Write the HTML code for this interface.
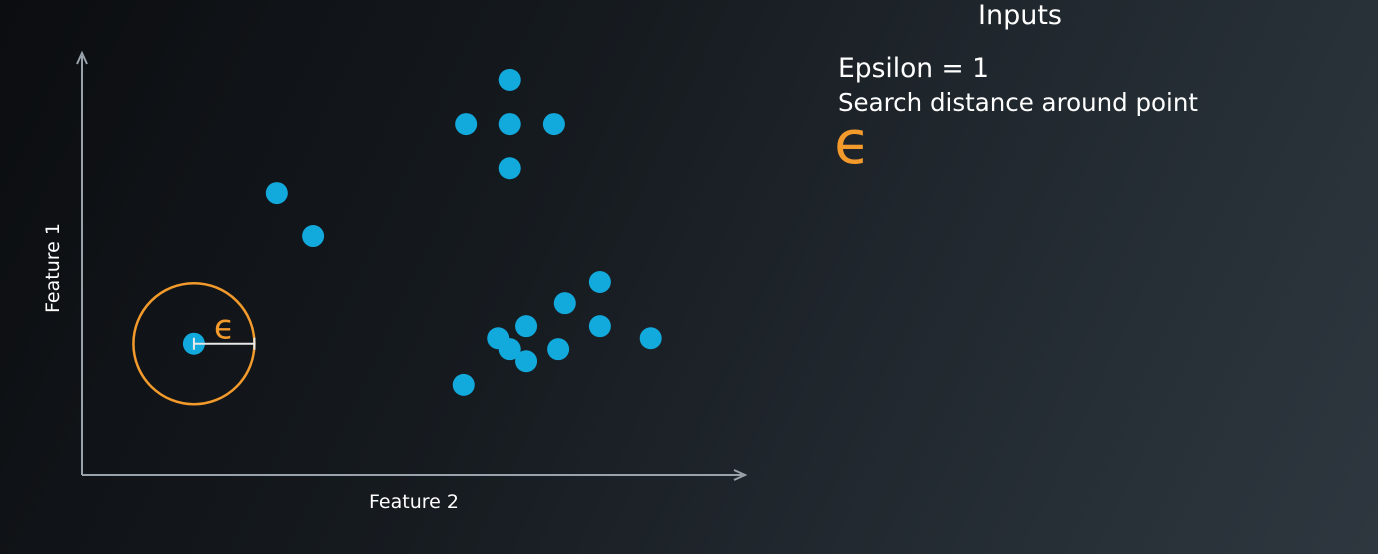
<!DOCTYPE html>
<html><head><meta charset="utf-8"><style>
html,body{margin:0;padding:0;width:1378px;height:554px;overflow:hidden}
body{background:linear-gradient(115deg,#0b0d10 0%,#161b20 40%,#252d34 75%,#2e373f 100%);font-family:"DejaVu Sans",sans-serif;color:#fff}
.t{position:absolute;white-space:nowrap}
</style></head><body>
<svg width="1378" height="554" style="position:absolute;left:0;top:0">
<g id="axes">
<line x1="82" y1="475" x2="82" y2="56" stroke="#9aa3ab" stroke-width="2"/>
<path d="M77,64 L82,53 L87,64" fill="none" stroke="#9aa3ab" stroke-width="2"/>
<line x1="82" y1="475" x2="742" y2="475" stroke="#9aa3ab" stroke-width="2"/>
<path d="M734,470 L745,475 L734,480" fill="none" stroke="#9aa3ab" stroke-width="2"/>
<text x="414" y="508" fill="#fff" font-size="19" font-family="DejaVu Sans, sans-serif" text-anchor="middle">Feature 2</text>
<text transform="translate(59,268) rotate(-90)" fill="#fff" font-size="19" font-family="DejaVu Sans, sans-serif" text-anchor="middle">Feature 1</text>
</g>
<g id="marks"></g>
</svg>
<div class="t" style="left:978px;top:0px;font-size:27px">Inputs</div>
<div class="t" style="left:838px;top:53px;font-size:26.5px">Epsilon = 1</div>
<div class="t" style="left:838px;top:88px;font-size:24.5px">Search distance around point</div>
<div class="t" style="left:834px;top:108px;font-size:60px;line-height:70px;color:#f39a2c;font-family:'DejaVu Sans',sans-serif">ϵ</div>
<script>
const xs=[1.85,3.22,3.82,7.07,6.35,7.07,7.80,7.07,8.56,7.98,7.34,8.56,6.88,9.40,7.07,7.87,7.34,6.31];
const ys=[2.17,4.66,3.95,6.53,5.80,5.80,5.80,5.07,3.19,2.84,2.46,2.46,2.26,2.26,2.08,2.08,1.88,1.49];
const epsilon=[1];
const focusIndex=0;
const X0=82,Y0=475,U=60.5;
const sx=v=>X0+v*U, sy=v=>Y0-v*U;
const NS='http://www.w3.org/2000/svg';
const g=document.getElementById('marks');
const cx=sx(xs[focusIndex]),cy=sy(ys[focusIndex]),r=epsilon[0]*U;
const c=document.createElementNS(NS,'circle');
c.setAttribute('cx',cx);c.setAttribute('cy',cy);c.setAttribute('r',r);
c.setAttribute('fill','none');c.setAttribute('stroke','#f39a2c');c.setAttribute('stroke-width','2.5');


g.appendChild(c);
for(let i=0;i<xs.length;i++){
 const p=document.createElementNS(NS,'circle');
 p.setAttribute('cx',sx(xs[i]));p.setAttribute('cy',sy(ys[i]));p.setAttribute('r',11);p.setAttribute('fill','#12a9dc');
 
 
 g.appendChild(p);
}
const l=document.createElementNS(NS,'path');
l.setAttribute('d',`M${cx},${cy-6}V${cy+6}M${cx},${cy}H${cx+r}M${cx+r},${cy-6}V${cy+6}`);
l.setAttribute('stroke','#e8e8e8');l.setAttribute('stroke-width','2');l.setAttribute('fill','none');


g.appendChild(l);
const t=document.createElementNS(NS,'text');
t.setAttribute('x',cx+r*0.33);t.setAttribute('y',cy-5);t.setAttribute('fill','#f39a2c');t.setAttribute('font-size','34');
t.setAttribute('font-family','DejaVu Sans, sans-serif');
t.textContent='ϵ';


g.appendChild(t);
</script>
</body></html>
